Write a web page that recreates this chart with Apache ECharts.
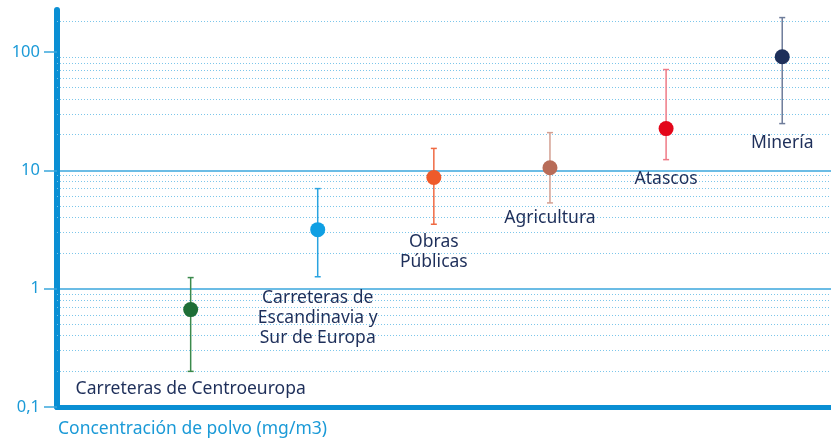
<!DOCTYPE html>
<html><head><meta charset="utf-8">
<script src="https://cdn.jsdelivr.net/npm/echarts@6/dist/echarts.min.js"></script>
<style>html,body{margin:0;padding:0;background:#fff}#c{width:831px;height:438px}</style>
</head><body><div id="c"></div>
<script>
const categories = ['Carreteras de Centroeuropa', 'Carreteras de\nEscandinavia y\nSur de Europa', 'Obras\nPúblicas', 'Agricultura', 'Atascos', 'Minería'];
const positions = [0.906, 2, 3, 4, 5, 6];
const meanValues = [0.665, 3.15, 8.7, 10.5, 22.5, 91];
const lowValues = [0.2, 1.26, 3.5, 5.3, 12.3, 24.8];
const highValues = [1.24, 7.0, 15.3, 20.8, 71, 195];
const majorTicks = [0.1, 1, 10, 100];
const minorGrid = [0.2,0.3,0.4,0.5,0.6,0.7,0.8,0.9, 2,3,4,5,6,7,8,9, 20,30,40,50,60,70,80,90, 180];
const xAxisTitle = 'Concentración de polvo (mg/m3)';

const pointColors = ['#1e6f37', '#0f9fe3', '#ef5a2a', '#b86c58', '#e3061a', '#1e2f5a'];
const barColors = ['#3b8a4c', '#2aa3e0', '#ef6a43', '#d4a092', '#ef7a86', '#6e7c9a'];
const labelDy = [8, 11, 8, 5, 9, 9];

const chart = echarts.init(document.getElementById('c'));
const data = positions.map((p, i) => [p, meanValues[i], lowValues[i], highValues[i], i]);

chart.setOption({
  animation: false,
  title: {
    text: xAxisTitle, left: 53, top: 415,
    textStyle: { color: '#1b9ad7', fontSize: 17.5, fontWeight: 'normal', fontFamily: 'Noto Sans' }
  },
  grid: { left: 57, right: 0, top: 10, bottom: 31, containLabel: false, outerBoundsMode: 'none' },
  xAxis: {
    type: 'value', min: -0.245, max: 6.42,
    axisLine: { show: true, onZero: false, lineStyle: { color: '#0a8fd4', width: 5 } },
    axisTick: { show: false }, axisLabel: { show: false }, splitLine: { show: false }
  },
  yAxis: {
    type: 'log', logBase: 10, min: 0.1, max: 226,
    axisLine: { show: true, onZero: false, lineStyle: { color: '#0a8fd4', width: 6 } },
    axisTick: { show: true, length: 13, customValues: majorTicks, lineStyle: { color: '#3aa6dc', width: 1.5 } },
    axisLabel: {
      customValues: majorTicks, margin: 17, color: '#1b9ad7', fontSize: 16.5, fontFamily: 'Noto Sans',
      formatter: v => String(v).replace('.', ',')
    },
    splitLine: { show: true, showMaxLine: false, showMinLine: false, lineStyle: { color: '#3aa6dc', width: 1.5 } },
    minorTick: { show: false }, minorSplitLine: { show: false }
  },
  series: [{
    type: 'custom',
    data: data,
    z: 5,
    markLine: {
      silent: true, symbol: 'none', label: { show: false }, z: 1,
      lineStyle: { color: '#7cc6ea', width: 1, type: [1, 2] },
      data: minorGrid.map(v => ({ yAxis: v }))
    },
    renderItem: function (params, api) {
      const i = api.value(4);
      const pt = api.coord([api.value(0), api.value(1)]);
      const lo = api.coord([api.value(0), api.value(2)]);
      const hi = api.coord([api.value(0), api.value(3)]);
      const cw = 3;
      const lineStyle = { stroke: barColors[i], lineWidth: 1.5 };
      return {
        type: 'group',
        children: [
          { type: 'line', shape: { x1: hi[0], y1: hi[1], x2: lo[0], y2: lo[1] }, style: lineStyle },
          { type: 'line', shape: { x1: hi[0] - cw, y1: hi[1], x2: hi[0] + cw, y2: hi[1] }, style: lineStyle },
          { type: 'line', shape: { x1: lo[0] - cw, y1: lo[1], x2: lo[0] + cw, y2: lo[1] }, style: lineStyle },
          { type: 'circle', shape: { cx: pt[0], cy: pt[1], r: 7.5 }, style: { fill: pointColors[i] } },
          { type: 'text', x: lo[0], y: lo[1] + labelDy[i], style: {
              text: categories[i], fill: '#1e2f5a', fontSize: 17.5, fontFamily: 'Noto Sans',
              align: 'center', verticalAlign: 'top', lineHeight: 20 } }
        ]
      };
    }
  }]
});
</script></body></html>
